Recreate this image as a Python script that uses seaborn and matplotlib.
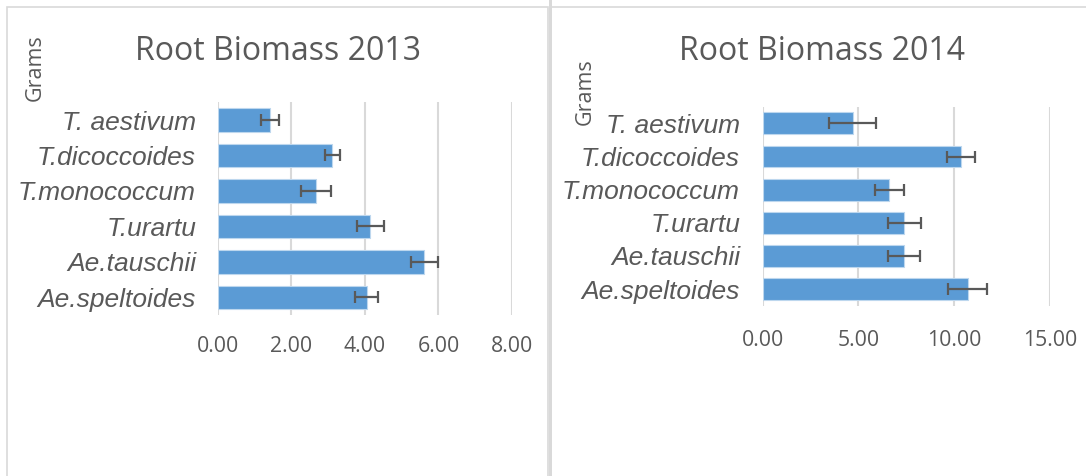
import matplotlib
matplotlib.use("Agg")
import matplotlib.pyplot as plt
import seaborn as sns
import pandas as pd
from matplotlib.patches import Rectangle

# ---- data ----
species = ["T. aestivum", "T.dicoccoides", "T.monococcum", "T.urartu", "Ae.tauschii", "Ae.speltoides"]
biomass_2013 = [1.42, 3.12, 2.67, 4.15, 5.62, 4.05]
err_2013 = [0.25, 0.21, 0.41, 0.37, 0.36, 0.32]
biomass_2014 = [4.70, 10.37, 6.62, 7.39, 7.39, 10.70]
err_2014 = [1.22, 0.74, 0.75, 0.85, 0.83, 1.02]
titles = ["Root Biomass 2013", "Root Biomass 2014"]
xticks_2013 = [0, 2, 4, 6, 8]
xticks_2014 = [0, 5, 10, 15]
ylabel = "Grams"

BAR = "#5B9BD5"
TXT = "#595959"
GRID = "#D9D9D9"

sns.set_theme(style="white")
plt.rcParams["font.family"] = ["Open Sans", "DejaVu Sans"]

W, H = 1086, 476
fig = plt.figure(figsize=(W / 100, H / 100), dpi=100)
fig.patch.set_facecolor("white")

def px_rect(x0, x1, ytop, ybot):
    return [x0 / W, 1 - ybot / H, (x1 - x0) / W, (ybot - ytop) / H]

# panel borders
fig.add_artist(Rectangle((6.5 / W, -0.1), (548.5 - 6.5) / W, 1.1 - 6.5 / H, transform=fig.transFigure,
                         fill=False, edgecolor=GRID, lw=1.2))
fig.add_artist(Rectangle((551 / W, -0.1), 1.2, 1.1 - 6.5 / H, transform=fig.transFigure,
                         fill=False, edgecolor=GRID, lw=1.2))
fig.add_artist(Rectangle((548.5 / W, -0.1), 3 / W, 1.2, transform=fig.transFigure,
                         facecolor=GRID, edgecolor="none"))

panels = [
    dict(rect=px_rect(217.7, 512, 102.3, 315), vals=biomass_2013, errs=err_2013,
         ticks=xticks_2013, xmax=8, title=titles[0], tpos=(278, 51), gpos=(35, 68),
         xpad=15, ypad=15.6),
    dict(rect=px_rect(762.7, 1050, 106.8, 305.6), vals=biomass_2014, errs=err_2014,
         ticks=xticks_2014, xmax=15, title=titles[1], tpos=(822, 51), gpos=(585, 92),
         xpad=17.5, ypad=16.3),
]

for p in panels:
    ax = fig.add_axes(p["rect"])
    df = pd.DataFrame({"species": species, "value": p["vals"]})
    sns.barplot(data=df, x="value", y="species", order=species, orient="h", ax=ax,
                color=BAR, saturation=1, width=0.66, errorbar=None,
                edgecolor="#BDD7EE", linewidth=0.8, zorder=2)
    for patch, v, e in zip(ax.patches, p["vals"], p["errs"]):
        yc = patch.get_y() + patch.get_height() / 2
        ax.errorbar(v, yc, xerr=e, fmt="none", ecolor=TXT, elinewidth=1.6,
                    capsize=4, capthick=1.6, zorder=3)
    ax.set_xlim(0, p["xmax"])
    ax.set_ylim(5.5, -0.5)
    ax.set_xticks(p["ticks"])
    ax.set_xticklabels([f"{t:.2f}" for t in p["ticks"]], fontsize=15.3, color=TXT,
                       fontfamily="Open Sans")
    ax.set_yticks(range(len(species)))
    ax.set_yticklabels(species, fontsize=19, color=TXT, fontstyle="italic",
                       fontfamily="Liberation Sans")
    ax.tick_params(axis="x", length=0, pad=p["xpad"])
    ax.tick_params(axis="y", length=0, pad=p["ypad"])
    ax.set_xlabel("")
    ax.set_ylabel("")
    ax.grid(axis="x", color=GRID, lw=1.5, zorder=0)
    ax.grid(axis="y", visible=False)
    ax.set_axisbelow(True)
    for s in ax.spines.values():
        s.set_visible(False)
    ax.set_facecolor("none")
    fig.text(p["tpos"][0] / W, 1 - p["tpos"][1] / H, p["title"], ha="center", va="center",
             fontsize=23, color=TXT, fontfamily="Open Sans")
    fig.text(p["gpos"][0] / W, 1 - p["gpos"][1] / H, ylabel, ha="center", va="center",
             rotation=90, fontsize=15.5, color=TXT, fontfamily="Open Sans")

fig.savefig("out.png", dpi=100, facecolor="white")
